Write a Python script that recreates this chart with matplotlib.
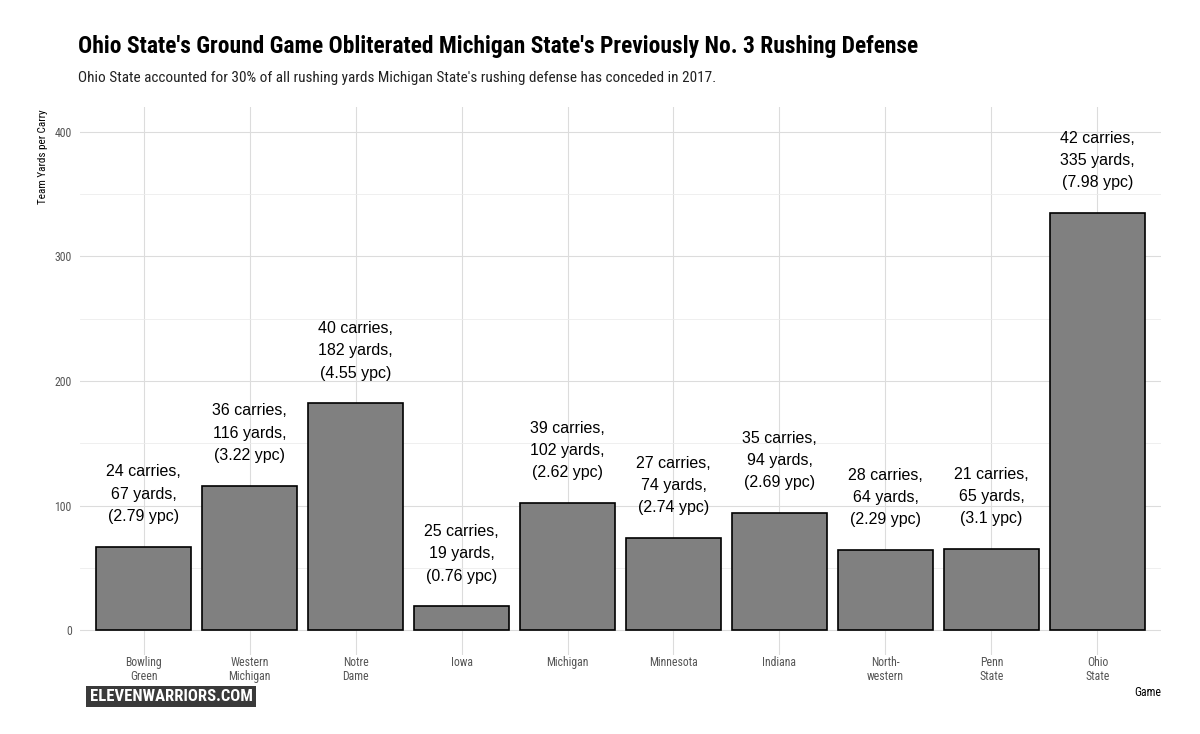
import matplotlib
matplotlib.use("Agg")
import matplotlib.pyplot as plt
from matplotlib import font_manager as fm
from matplotlib.patches import Rectangle
from matplotlib.ticker import MultipleLocator

names = {f.name for f in fm.fontManager.ttflist}
cond = next((n for n in ["Roboto Condensed", "Liberation Sans Narrow", "Roboto"] if n in names), "DejaVu Sans")
body = "Liberation Sans" if "Liberation Sans" in names else "DejaVu Sans"

games = ["Bowling\nGreen", "Western\nMichigan", "Notre\nDame", "Iowa", "Michigan",
         "Minnesota", "Indiana", "North-\nwestern", "Penn\nState", "Ohio\nState"]
yards = [67, 116, 182, 19, 102, 74, 94, 64, 65, 335]
carries = [24, 36, 40, 25, 39, 27, 35, 28, 21, 42]
ypc = ["2.79", "3.22", "4.55", "0.76", "2.62", "2.74", "2.69", "2.29", "3.1", "7.98"]

W, H = 1200, 734
fig = plt.figure(figsize=(W / 100, H / 100), dpi=100)
ax = fig.add_axes([80 / W, 1 - 655 / H, (1161 - 80) / W, (655 - 107) / H])

x = list(range(len(games)))
ax.bar(x, yards, width=0.9, color="#808080", edgecolor="black", linewidth=1.2, zorder=3)
for xi, y, c, p in zip(x, yards, carries, ypc):
    ax.annotate(f"{c} carries,\n{y} yards,\n({p} ypc)", (xi, y), xytext=(0, 16.5),
                textcoords="offset points", ha="center", va="bottom",
                fontsize=11.5, family=body, linespacing=1.6, color="black", zorder=4)

ax.set_xlim(-0.6, 9.6)
ax.set_ylim(-20, 420)
ax.yaxis.set_major_locator(MultipleLocator(100))
ax.yaxis.set_minor_locator(MultipleLocator(50))
ax.set_xticks(x)
ax.set_xticklabels(games, family=cond, fontsize=8.5, color="#555555", linespacing=1.05)
for lab in ax.get_yticklabels():
    lab.set_family(cond)
ax.tick_params(axis="y", labelsize=8.5, labelcolor="#555555", length=0, pad=6)
ax.tick_params(axis="x", length=0, pad=1)
ax.tick_params(which="minor", length=0)
ax.grid(which="major", color="#dcdcdc", linewidth=0.8, zorder=0)
ax.grid(which="minor", axis="y", color="#ececec", linewidth=0.6, zorder=0)
for s in ax.spines.values():
    s.set_visible(False)

fig.text(43 / W, 1 - 109 / H, "Team Yards per Carry", rotation=90, ha="center", va="top",
         family=cond, fontsize=8, color="black")
fig.text(1161 / W, 1 - 692 / H, "Game", ha="right", va="center", family=cond, fontsize=8.5, color="black")

fig.text(78 / W, 1 - 47 / H, "Ohio State's Ground Game Obliterated Michigan State's Previously No. 3 Rushing Defense",
         ha="left", va="center", family=cond, fontweight="bold", fontsize=16.9, color="black")
fig.text(78 / W, 1 - 78 / H, "Ohio State accounted for 30% of all rushing yards Michigan State's rushing defense has conceded in 2017.",
         ha="left", va="center", family=cond, fontsize=11.0, color="#222222")

fig.patches.append(Rectangle((86 / W, 1 - 707 / H), 170 / W, 21 / H, transform=fig.transFigure,
                             facecolor="#3a3a3a", edgecolor="none"))
fig.text(171 / W, 1 - 696.5 / H, "ELEVENWARRIORS.COM", ha="center", va="center", family=cond,
         fontweight="bold", fontsize=12, color="white")

fig.savefig("out.png", dpi=100, facecolor="white")
